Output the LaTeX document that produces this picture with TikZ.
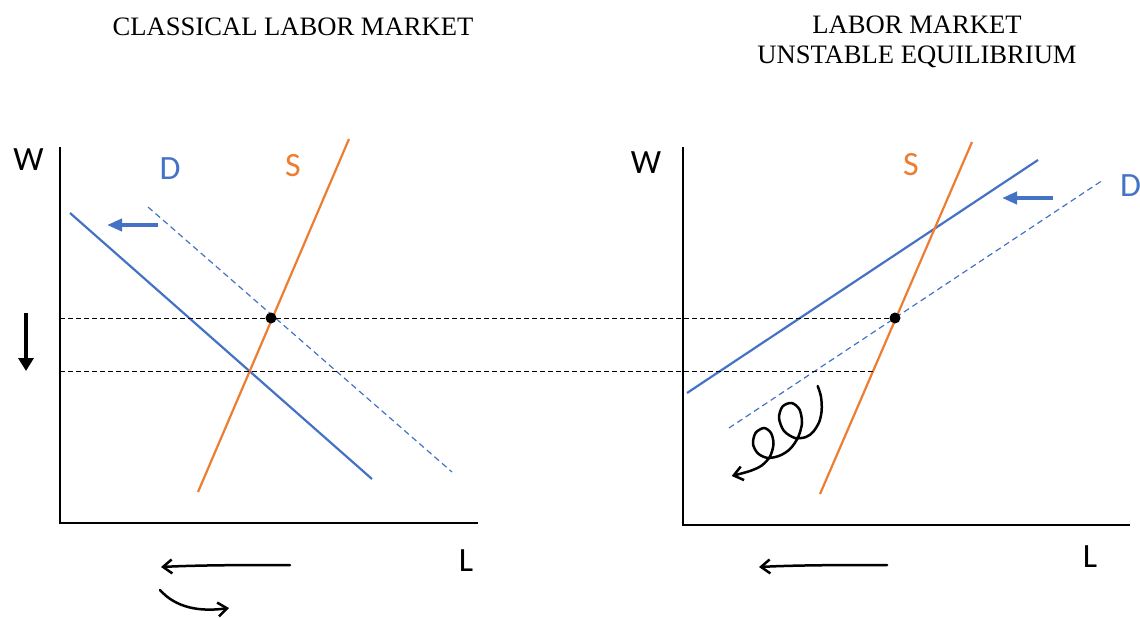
\documentclass[tikz,border=0pt]{standalone}
\usepackage{fontspec}
\setmainfont{Liberation Serif}
\newfontfamily\calib{Carlito}
\usetikzlibrary{arrows.meta}
\definecolor{dblue}{HTML}{4472C4}
\definecolor{sorange}{HTML}{ED7D31}

\begin{document}
\begin{tikzpicture}
  [x=1pt,y=-1pt,
   title/.style={font=\fontsize{26.6}{30}\selectfont,align=center,inner sep=0pt},
   axlbl/.style={font=\calib\fontsize{34}{34}\selectfont,inner sep=0pt},
   axis/.style={line width=2.2pt},
   dcurve/.style={dblue,line width=2.2pt},
   dshift/.style={dblue,line width=1.2pt,dash pattern=on 6pt off 4pt},
   scurve/.style={sorange,line width=2.2pt},
   level/.style={line width=1pt,dash pattern=on 5pt off 3pt},
   shiftarrow/.style={dblue,line width=4pt,-{Triangle[length=15pt,width=12pt]}},
   hand/.style={line width=2.5pt,line cap=round,-{Straight Barb[length=9pt,width=14pt]}},
   dot/.style={circle,fill=black,minimum size=11pt,inner sep=0pt}]
  \useasboundingbox (0,0) rectangle (1140,618);

  % titles
  \node[title] (t1) at (293,27) {CLASSICAL LABOR MARKET};
  \node[title] (t2) at (917,42) {LABOR MARKET\\UNSTABLE EQUILIBRIUM};

  % axes
  \coordinate (w1) at (60,147);  \coordinate (o1) at (60,523);  \coordinate (l1) at (478,523);
  \coordinate (w2) at (683,147); \coordinate (o2) at (683,525); \coordinate (l2) at (1130,525);
  \foreach \top/\org/\rgt in {w1/o1/l1, w2/o2/l2}
    \draw[axis] (\top) -- (\org) -- (\rgt);

  \node[axlbl] (W1) at (28.5,160) {W};
  \node[axlbl] (L1) at (466,561) {L};
  \node[axlbl] (W2) at (646,163) {W};
  \node[axlbl] (L2) at (1090,557) {L};

  % classical market
  \coordinate (d1a) at (70,213);  \coordinate (d1b) at (372,479);
  \coordinate (d1c) at (148,207); \coordinate (d1d) at (452,472);
  \coordinate (s1a) at (198,492); \coordinate (s1b) at (349,139);
  \draw[dshift] (d1c) -- (d1d);
  \draw[dcurve] (d1a) -- (d1b);
  \draw[scurve] (s1a) -- (s1b);
  \node[axlbl,dblue] (D1) at (170,168.5) {D};
  \node[axlbl,sorange] (S1) at (293,166) {S};

  % unstable market
  \coordinate (d2a) at (687,393);  \coordinate (d2b) at (1038,160);
  \coordinate (d2c) at (729,428);  \coordinate (d2d) at (1103,180);
  \coordinate (s2a) at (820,494);  \coordinate (s2b) at (972,142);
  \draw[dshift] (d2c) -- (d2d);
  \draw[dcurve] (d2a) -- (d2b);
  \draw[scurve] (s2a) -- (s2b);
  \node[axlbl,dblue,anchor=west] (D2) at (1120,186) {D};
  \node[axlbl,sorange] (S2) at (911,165) {S};

  % wage levels
  \node[dot] (e1) at (271,318) {};
  \node[dot] (e2) at (895,318) {};
  \coordinate (h1) at (60,318);
  \coordinate (h2) at (60,371);
  \coordinate (h3) at (874,371);
  \draw[level] (h1) -- (e2);
  \draw[level] (h2) -- (h3);

  % shifts
  \coordinate (a1) at (158,225); \coordinate (b1) at (107,225);
  \coordinate (a2) at (1053,198); \coordinate (b2) at (1002,198);
  \foreach \from/\to in {a1/b1, a2/b2}
    \draw[shiftarrow] (\from) -- (\to);
  \coordinate (wa) at (26,313); \coordinate (wb) at (26,371);
  \draw[line width=3.5pt,-{Triangle[length=13pt,width=15pt]}] (wa) -- (wb);

  % hand drawn arrows
  \coordinate (m1) at (290,565); \coordinate (n1) at (161,567);
  \coordinate (m2) at (887,565); \coordinate (n2) at (759,567);
  \foreach \from/\to in {m1/n1, m2/n2}
    \draw[hand] (\from) .. controls +(-40,0) and +(40,-2) .. (\to);
  \coordinate (c1) at (160,590); \coordinate (c2) at (229,608);
  \draw[hand] (c1) .. controls (176,608) and (200,612) .. (c2);

  \draw[hand] plot[smooth,tension=0.5] coordinates {
    (817.7,386) (821,396.7) (821.7,410) (819.3,421.7) (813.3,431.7)
    (806,437) (795,438) (784,431) (779,418) (782.5,406.5)
    (791.7,403) (799.5,409.5) (802,423) (798,437.5) (790,449)
    (780,455.5) (768,458) (758,453.5) (753,444) (755.5,433)
    (764,428) (771,433) (773.5,444) (770,456.5) (761.7,465.5)
    (750,471) (731.7,476)};

\end{tikzpicture}
\end{document}
